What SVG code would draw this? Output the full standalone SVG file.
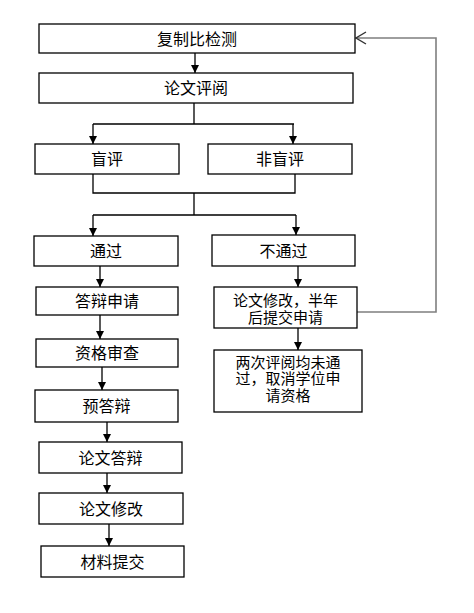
<svg xmlns="http://www.w3.org/2000/svg" width="474" height="613" viewBox="0 0 474 613">
<style>
.box{fill:#fff;stroke:#000;stroke-width:1.3}
.t{font-family:"Liberation Sans","Noto Sans CJK SC",sans-serif;font-size:16px;fill:#000;text-anchor:middle}
.m{font-size:15px}
.c{fill:none;stroke:#000;stroke-width:1.3}
.fb{fill:none;stroke:#7f7f7f;stroke-width:1.6}
</style>
<defs>
<marker id="ah" markerWidth="8" markerHeight="8" refX="8" refY="4" orient="auto" markerUnits="userSpaceOnUse">
<path d="M0,0 L8,4 L0,8 z" fill="#000"/>
</marker>
<marker id="oa" markerWidth="12" markerHeight="14" refX="11" refY="7" orient="auto" markerUnits="userSpaceOnUse">
<path d="M1,1 L11,7 L1,13" fill="none" stroke="#333" stroke-width="1.4"/>
</marker>
</defs>
<rect width="474" height="613" fill="#fff"/>
<g id="connectors">
<path class="c" d="M195,53 V73" marker-end="url(#ah)"/>
<path class="c" d="M194,103 V124 M93,124 H294"/>
<path class="c" d="M93,124 V144" marker-end="url(#ah)"/>
<path class="c" d="M293,124 V144" marker-end="url(#ah)"/>
<path class="c" d="M93,174 V193 H295 V174 M194,193 V215 M93,215 H296"/>
<path class="c" d="M93,215 V236" marker-end="url(#ah)"/>
<path class="c" d="M296,215 V235" marker-end="url(#ah)"/>
<path class="c" d="M100,266 V287" marker-end="url(#ah)"/>
<path class="c" d="M100,315 V339" marker-end="url(#ah)"/>
<path class="c" d="M102,367 V390" marker-end="url(#ah)"/>
<path class="c" d="M107,422 V442" marker-end="url(#ah)"/>
<path class="c" d="M107,473 V493" marker-end="url(#ah)"/>
<path class="c" d="M109,524 V546" marker-end="url(#ah)"/>
<path class="c" d="M298,266 V287" marker-end="url(#ah)"/>
<path class="c" d="M298,328 V350" marker-end="url(#ah)"/>
<path class="fb" d="M357,312 H436 V38 H356" marker-end="url(#oa)"/>
</g>
<g id="n1"><rect class="box" x="39" y="24" width="316" height="29"/><text class="t" x="197" y="44.5">复制比检测</text></g>
<g id="n2"><rect class="box" x="39" y="73" width="314" height="30"/><text class="t" x="196" y="94">论文评阅</text></g>
<g id="n3"><rect class="box" x="35" y="144" width="144" height="30"/><text class="t" x="107" y="165">盲评</text></g>
<g id="n4"><rect class="box" x="208" y="144" width="144" height="30"/><text class="t" x="280" y="165">非盲评</text></g>
<g id="n5"><rect class="box" x="34" y="236" width="144" height="30"/><text class="t" x="106" y="257">通过</text></g>
<g id="n6"><rect class="box" x="212" y="235" width="143" height="31"/><text class="t" x="283.5" y="256.5">不通过</text></g>
<g id="n7"><rect class="box" x="36" y="287" width="142" height="28"/><text class="t" x="107" y="307">答辩申请</text></g>
<g id="n8"><rect class="box" x="36" y="339" width="142" height="28"/><text class="t" x="107" y="359">资格审查</text></g>
<g id="n9"><rect class="box" x="35" y="390" width="143" height="32"/><text class="t" x="106.5" y="412">预答辩</text></g>
<g id="n10"><rect class="box" x="39" y="442" width="143" height="31"/><text class="t" x="110.5" y="463.5">论文答辩</text></g>
<g id="n11"><rect class="box" x="39" y="493" width="144" height="31"/><text class="t" x="111" y="514.5">论文修改</text></g>
<g id="n12"><rect class="box" x="41" y="546" width="143" height="31"/><text class="t" x="112.5" y="567.5">材料提交</text></g>
<g id="n13"><rect class="box" x="214" y="287" width="143" height="41"/><text class="t m" x="285.5" y="305.5">论文修改，半年</text><text class="t m" x="285.5" y="322.5">后提交申请</text></g>
<g id="n14"><rect class="box" x="214" y="350" width="148" height="62"/><text class="t m" x="288" y="367.5">两次评阅均未通</text><text class="t m" x="288" y="384.3">过，取消学位申</text><text class="t m" x="288" y="401.1">请资格</text></g>
</svg>
